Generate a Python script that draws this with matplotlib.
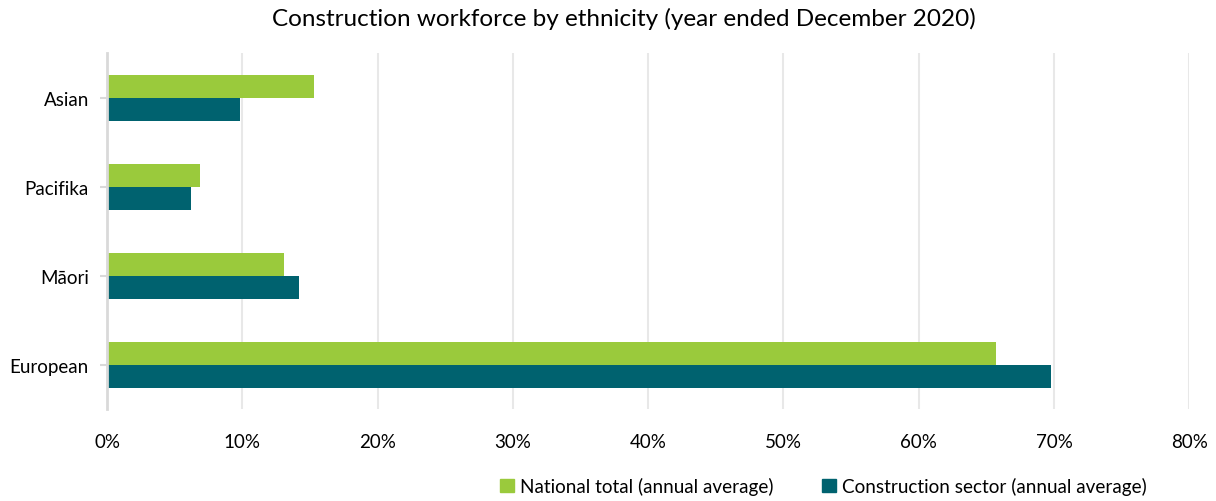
import matplotlib.pyplot as plt
from matplotlib.patches import Patch
from matplotlib.ticker import FuncFormatter
import numpy as np

plt.rcParams['font.family'] = ['Lato', 'DejaVu Sans']

groups = ['European', 'Māori', 'Pacifika', 'Asian']
national = [65.7, 13.1, 6.9, 15.3]
construction = [69.8, 14.2, 6.2, 9.8]
xticks = [0, 10, 20, 30, 40, 50, 60, 70, 80]

green = '#9ACA3C'
teal = '#00626F'

fig = plt.figure(figsize=(12.16, 5.02), dpi=100)
ax = fig.add_axes([0.088, 0.183, 0.89, 0.709])

y = np.arange(len(groups))
h = 0.26
ax.barh(y + h / 2, national, height=h, color=green, zorder=3)
ax.barh(y - h / 2, construction, height=h, color=teal, zorder=3)

ax.set_xlim(0, 80)
ax.set_ylim(-0.5, 3.5)
ax.set_xticks(xticks)
ax.xaxis.set_major_formatter(FuncFormatter(lambda v, p: f'{v:.0f}%'))
ax.set_yticks(y)
ax.set_yticklabels(groups)
ax.tick_params(axis='x', length=0, pad=17, labelsize=13.5)
ax.tick_params(axis='y', length=5, width=1.5, color='#D9D9D9', pad=8, labelsize=13.5)
ax.grid(axis='x', color='#E8E8E8', linewidth=1.5, zorder=0)

for s in ['top', 'right', 'bottom']:
    ax.spines[s].set_visible(False)
ax.spines['left'].set_color('#D9D9D9')
ax.spines['left'].set_linewidth(2)
ax.spines['left'].set_zorder(4)

fig.suptitle('Construction workforce by ethnicity (year ended December 2020)',
             x=0.513, y=0.985, fontsize=17.5)

handles = [Patch(color=green, label='National total (annual average)'),
           Patch(color=teal, label='Construction sector (annual average)')]
fig.legend(handles=handles, loc='lower right', bbox_to_anchor=(0.957, -0.022),
           ncol=2, frameon=False, fontsize=13.6, handlelength=0.75, handleheight=0.75,
           handletextpad=0.3, columnspacing=2.6)

fig.savefig('out.png', dpi=100)
